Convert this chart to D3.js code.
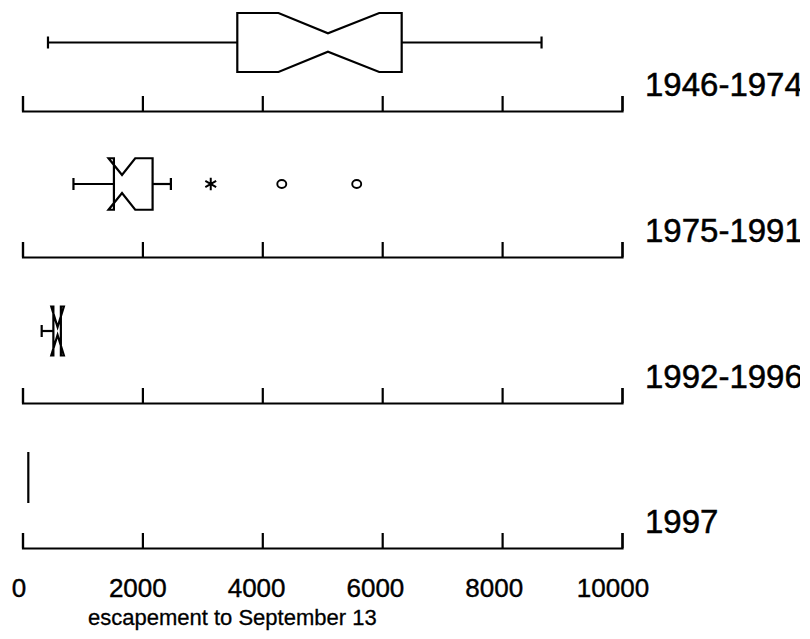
<!DOCTYPE html>
<html>
<head>
<meta charset="utf-8">
<script src="https://cdn.jsdelivr.net/npm/d3@7"></script>
<style>
  html, body { margin: 0; padding: 0; background: #fff; }
  svg { display: block; }
  text { font-family: "Liberation Sans", Arial, Helvetica, sans-serif; fill: #000; }
</style>
</head>
<body>
<svg id="chart" width="810" height="639"></svg>
<script>
// ---------------- data ----------------
const groups = ["1946-1974", "1975-1991", "1992-1996", "1997"];
const whiskerLow  = [425, 850, 320, 97];
const q1          = [3583, 1525, 515, 97];
const median      = [5095, 1660, 585, 97];
const q3          = [6325, 2170, 640, 97];
const whiskerHigh = [8658, 2475, 640, 97];
const notchLow    = [4270, 1435, 480, 97];
const notchHigh   = [5950, 1880, 690, 97];
const outlierValues = [[], [3140, 4325, 5575], [], []];
const outlierKinds  = [[], ["star", "circle", "circle"], [], []];
const tickValues = [0, 2000, 4000, 6000, 8000, 10000];
const tickLabels = ["0", "2000", "4000", "6000", "8000", "10000"];
const axisTitle = "escapement to September 13";

// ---------------- layout ----------------
const axisY      = [111, 257, 403, 548];
const boxCenter  = [42.5, 184, 331, 477.5];
const boxHalf    = [29.5, 25.75, 24.5, 25.5];
const notchInner = [9.3, 9, 4, 0];
const capHalf = 6;

const svg = d3.select("#chart");
const x = d3.scaleLinear().domain([0, 10000]).range([22.5, 622]);
const labelX = d3.scaleLinear().domain([0, 10000]).range([19, 613]);

svg.append("defs").append("clipPath").attr("id", "clipR")
  .append("rect").attr("x", 0).attr("y", 0).attr("width", 800).attr("height", 639);

const stroke = "#000", sw = 2.2;

groups.forEach((g, i) => {
  // axis
  const ax = svg.append("g").attr("transform", `translate(0,${axisY[i]})`)
    .call(d3.axisTop(x).tickValues(tickValues).tickSize(15).tickSizeOuter(15).tickFormat(""));
  ax.selectAll("path,line").attr("stroke", stroke).attr("stroke-width", sw);

  // group label
  svg.append("text")
    .attr("clip-path", "url(#clipR)")
    .attr("x", 645).attr("y", axisY[i] - 15)
    .attr("font-size", 33)
    .attr("stroke", "#000").attr("stroke-width", 0.5)
    .text(g);

  const cy = boxCenter[i], h = boxHalf[i], inner = notchInner[i];
  const gB = svg.append("g");

  // whiskers
  const wl = x(whiskerLow[i]), wh = x(whiskerHigh[i]);
  if (whiskerLow[i] < q1[i]) {
    gB.append("line").attr("x1", wl).attr("x2", x(q1[i])).attr("y1", cy).attr("y2", cy);
    gB.append("line").attr("x1", wl).attr("x2", wl).attr("y1", cy - capHalf).attr("y2", cy + capHalf);
  }
  if (whiskerHigh[i] > q3[i]) {
    gB.append("line").attr("x1", x(q3[i])).attr("x2", wh).attr("y1", cy).attr("y2", cy);
    gB.append("line").attr("x1", wh).attr("x2", wh).attr("y1", cy - capHalf).attr("y2", cy + capHalf);
  }

  // notched box polygon (R bxp style)
  const pts = [
    [x(q1[i]), cy - h], [x(notchLow[i]), cy - h], [x(median[i]), cy - inner],
    [x(notchHigh[i]), cy - h], [x(q3[i]), cy - h], [x(q3[i]), cy + h],
    [x(notchHigh[i]), cy + h], [x(median[i]), cy + inner], [x(notchLow[i]), cy + h],
    [x(q1[i]), cy + h]
  ];
  gB.append("polygon").attr("points", pts.map(p => p.join(",")).join(" "))
    .attr("fill", "none");

  gB.selectAll("line,polygon").attr("stroke", stroke).attr("stroke-width", sw)
    .attr("stroke-linejoin", "miter");

  // outliers
  outlierValues[i].forEach((v, k) => {
    if (outlierKinds[i][k] === "circle") {
      gB.append("ellipse").attr("cx", x(v)).attr("cy", cy).attr("rx", 4.5).attr("ry", 4)
        .attr("fill", "none").attr("stroke", stroke).attr("stroke-width", 1.9);
    } else {
      gB.append("path").attr("d", d3.symbol(d3.symbolAsterisk, 110)())
        .attr("transform", `translate(${x(v)},${cy})`)
        .attr("fill", "none").attr("stroke", stroke).attr("stroke-width", 2);
    }
  });
});

// tick labels under the last axis
svg.selectAll("text.tl").data(tickValues).enter().append("text")
  .attr("class", "tl")
  .attr("x", (d) => labelX(d)).attr("y", 597)
  .attr("text-anchor", "middle").attr("font-size", 26)
  .attr("stroke", "#000").attr("stroke-width", 0.4)
  .text((d, j) => tickLabels[j]);

svg.append("text").attr("x", 88).attr("y", 625).attr("font-size", 22)
  .attr("stroke", "#000").attr("stroke-width", 0.3)
  .text(axisTitle);
</script>
</body>
</html>
